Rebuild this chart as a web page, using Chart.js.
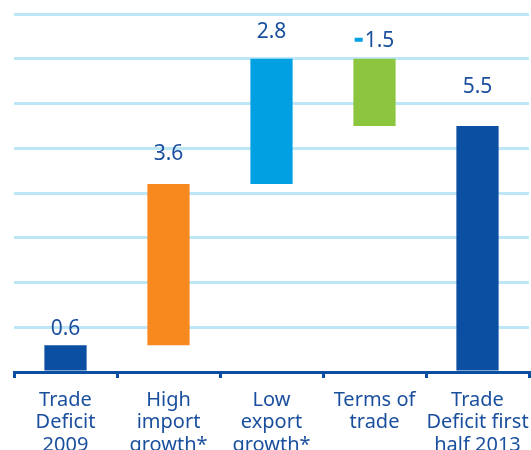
<!DOCTYPE html>
<html>
<head>
<meta charset="utf-8">
<script src="https://cdn.jsdelivr.net/npm/chart.js@4/dist/chart.umd.min.js"></script>
<style>
  html, body { margin: 0; padding: 0; background: #fff; overflow: hidden; }
  #wrap { width: 531px; height: 450px; position: relative; }
</style>
</head>
<body>
<div id="wrap"><canvas id="chart"></canvas></div>
<script>
// categories and values (bn, waterfall)
const categories = [
    ['Trade', 'Deficit', '2009'],
    ['High', 'import', 'growth*'],
    ['Low', 'export', 'growth*'],
    ['Terms of', 'trade'],
    ['Trade', 'Deficit first', 'half 2013']
];
const changes = [0.6, 3.6, 2.8, -1.5, 5.5];
const isTotal = [true, false, false, false, true];
const yTicks = [0, 1, 2, 3, 4, 5, 6, 7, 8];

const barColors = ['#0b4fa2', '#f7891f', '#00a0e3', '#8cc63f', '#0b4fa2'];
const textColor = '#1a4f9e';

// build floating bars from the changes
let running = 0;
const floating = changes.map((v, i) => {
    if (isTotal[i]) {
        running = v;
        return [0, v];
    }
    const start = running;
    running += v;
    return [start, running];
});

// how far above the bar top each value label sits (px)
const labelLift = [16, 30, 27, 18, 39];

const valueLabels = {
    id: 'valueLabels',
    afterDatasetsDraw(chart) {
        const ctx = chart.ctx;
        const meta = chart.getDatasetMeta(0);
        ctx.save();
        ctx.font = '21px "Noto Sans"';
        ctx.textBaseline = 'middle';
        meta.data.forEach((bar, i) => {
            const top = Math.min(bar.y, bar.base);
            const y = top - labelLift[i];
            const v = changes[i];
            const txt = Math.abs(v).toFixed(1);
            if (v < 0) {
                const w = ctx.measureText(txt).width;
                const full = w + 10;
                const left = bar.x - full / 2;
                ctx.fillStyle = '#00a0e3';
                ctx.fillRect(left, y - 3, 8, 4);
                ctx.fillStyle = textColor;
                ctx.textAlign = 'left';
                ctx.fillText(txt, left + 10, y);
            } else {
                ctx.fillStyle = textColor;
                ctx.textAlign = 'center';
                ctx.fillText(txt, bar.x, y);
            }
        });
        ctx.restore();
    }
};

new Chart(document.getElementById('chart'), {
    type: 'bar',
    data: {
        labels: categories,
        datasets: [{
            data: floating,
            backgroundColor: barColors,
            borderWidth: 0,
            borderSkipped: false,
            categoryPercentage: 1,
            barPercentage: 0.41
        }]
    },
    options: {
        responsive: true,
        maintainAspectRatio: false,
        animation: false,
        layout: { padding: { left: 14, right: 2, top: 14, bottom: 0 } },
        plugins: {
            legend: { display: false },
            tooltip: { enabled: false }
        },
        scales: {
            x: {
                afterFit: scale => {
                    scale.height = 78;
                    scale.paddingLeft = 0;
                    scale.paddingRight = 0;
                },
                grid: {
                    display: true,
                    offset: true,
                    drawOnChartArea: false,
                    drawTicks: true,
                    tickLength: 6,
                    color: '#0b4fa2',
                    lineWidth: 3
                },
                border: { display: true, color: '#0b4fa2', width: 3 },
                ticks: {
                    color: textColor,
                    font: { family: 'Noto Sans', size: 20, lineHeight: 1.12 },
                    padding: 11,
                    maxRotation: 0,
                    autoSkip: false
                }
            },
            y: {
                min: 0,
                max: 8,
                afterFit: scale => { scale.width = 0; },
                afterBuildTicks: scale => { scale.ticks = yTicks.map(v => ({ value: v })); },
                ticks: { display: false },
                grid: {
                    color: '#bde6f7',
                    lineWidth: 3,
                    drawTicks: false
                },
                border: { display: false }
            }
        }
    },
    plugins: [valueLabels]
});
</script>
</body>
</html>
